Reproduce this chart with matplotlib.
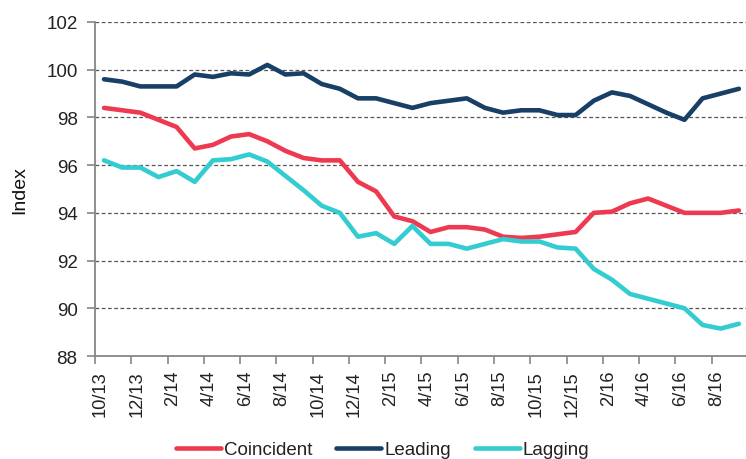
import matplotlib
matplotlib.use("Agg")
import matplotlib.pyplot as plt
from matplotlib.ticker import FixedLocator, NullFormatter, FixedFormatter
import matplotlib.transforms as mtrans

plt.rcParams['font.family'] = ['Liberation Sans', 'DejaVu Sans']

months = ["10/13", "11/13", "12/13", "1/14", "2/14", "3/14", "4/14", "5/14", "6/14",
          "7/14", "8/14", "9/14", "10/14", "11/14", "12/14", "1/15", "2/15", "3/15",
          "4/15", "5/15", "6/15", "7/15", "8/15", "9/15", "10/15", "11/15", "12/15",
          "1/16", "2/16", "3/16", "4/16", "5/16", "6/16", "7/16", "8/16", "9/16"]

coincident = [98.4, 98.3, 98.2, 97.9, 97.6, 96.7, 96.85, 97.2, 97.3, 97.0, 96.6, 96.3,
              96.2, 96.2, 95.3, 94.9, 93.85, 93.65, 93.2, 93.4, 93.4, 93.3, 93.0, 92.95,
              93.0, 93.1, 93.2, 94.0, 94.05, 94.4, 94.6, 94.3, 94.0, 94.0, 94.0, 94.1]

leading = [99.6, 99.5, 99.3, 99.3, 99.3, 99.8, 99.7, 99.85, 99.8, 100.2, 99.8, 99.85,
           99.4, 99.2, 98.8, 98.8, 98.6, 98.4, 98.6, 98.7, 98.8, 98.4, 98.2, 98.3,
           98.3, 98.1, 98.1, 98.7, 99.05, 98.9, 98.55, 98.2, 97.9, 98.8, 99.0, 99.2]

lagging = [96.2, 95.9, 95.9, 95.5, 95.75, 95.3, 96.2, 96.25, 96.45, 96.15, 95.55, 94.95,
           94.3, 94.0, 93.0, 93.15, 92.7, 93.45, 92.7, 92.7, 92.5, 92.7, 92.9, 92.8,
           92.8, 92.55, 92.5, 91.65, 91.2, 90.6, 90.4, 90.2, 90.0, 89.3, 89.15, 89.35]

series_names = ["Coincident", "Leading", "Lagging"]
colors = ["#EE3A50", "#183F66", "#33CCD0"]
yticks = [88, 90, 92, 94, 96, 98, 100, 102]

fig = plt.figure(figsize=(7.46, 4.6), dpi=100)
ax = fig.add_axes([0.1273, 0.2239, 0.8753, 0.7261])

x = list(range(len(months)))
for vals, name, col in zip([coincident, leading, lagging], series_names, colors):
    ax.plot(x, vals, color=col, lw=3.3, label=name, solid_joinstyle='round',
            solid_capstyle='round', zorder=3)

ax.set_xlim(-0.5, len(months) - 0.5)
ax.set_ylim(88, 102)
ax.set_yticks(yticks)
ax.set_yticklabels([str(v) for v in yticks])
ax.yaxis.grid(True, color='#555555', lw=0.9, linestyle=(0, (3, 2)))
ax.set_axisbelow(True)

# x ticks at category boundaries, labels near category
ax.xaxis.set_major_locator(FixedLocator([i - 0.5 for i in range(0, len(months) + 1, 2)]))
ax.xaxis.set_major_formatter(NullFormatter())
label_pos = [i - 0.2 for i in range(0, len(months), 2)]
ax.xaxis.set_minor_locator(FixedLocator(label_pos))
ax.xaxis.set_minor_formatter(FixedFormatter([months[i] for i in range(0, len(months), 2)]))
ax.tick_params(axis='x', which='major', length=5.5, width=1.2, color='#868686', direction='out')
ax.tick_params(axis='x', which='minor', length=0, pad=10, labelsize=13.2, rotation=90,
               labelcolor='#222222')
ax.tick_params(axis='y', length=5.5, width=1.2, color='#868686', pad=7, labelsize=13.5,
               labelcolor='#222222')

for s in ['top', 'right']:
    ax.spines[s].set_visible(False)
for s in ['left', 'bottom']:
    ax.spines[s].set_color('#868686')
    ax.spines[s].set_linewidth(1.3)

fig.text(20 / 746, 0.587, "Index", rotation=90, ha='center', va='center', fontsize=14,
         color='#111111')

fig.legend(loc='center', bbox_to_anchor=(0.513, 0.02), ncol=3, frameon=False,
           fontsize=13.5, handlelength=2.4, handletextpad=0.15, columnspacing=1.3,
           labelcolor='#222222')

fig.savefig("out.png", dpi=100)
